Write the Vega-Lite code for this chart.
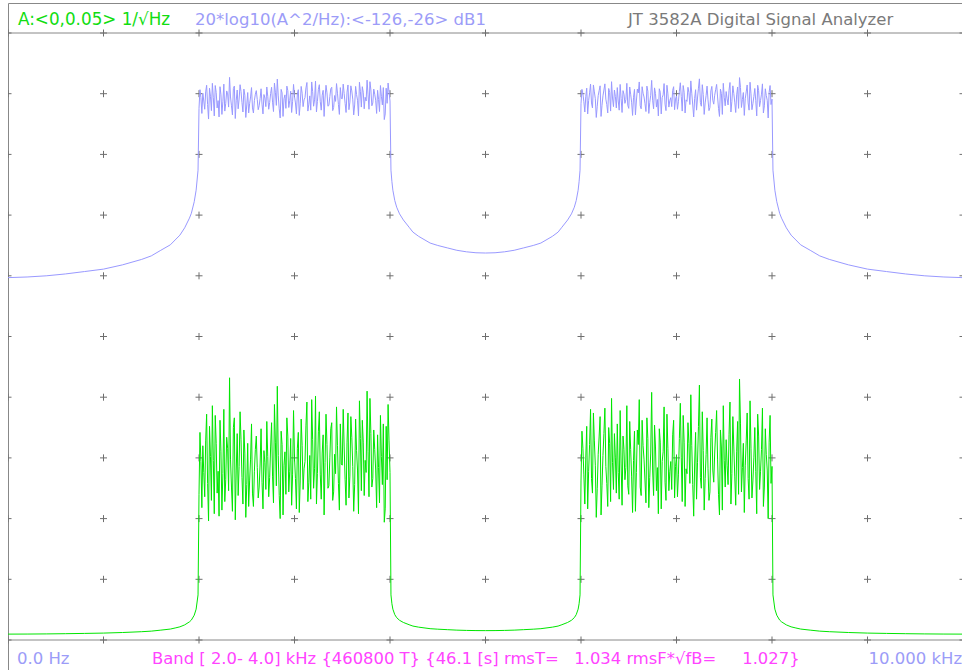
{
  "$schema": "https://vega.github.io/schema/vega-lite/v6.json",
  "width": 955,
  "height": 667,
  "padding": {"left": 8, "top": 3, "right": 0, "bottom": 0},
  "autosize": {"type": "none"},
  "background": "white",
  "config": {"view": {"stroke": "#888888", "strokeWidth": 1}},
  "datasets": {
    "one": [{}],
    "grid": [
      {"gx": 0, "gy": [0, 0.005, 0.01, 0.015, 0.02, 0.025, 0.03, 0.035, 0.04, 0.045, 0.05]},
      {"gx": 1, "gy": [0, 0.005, 0.01, 0.015, 0.02, 0.025, 0.03, 0.035, 0.04, 0.045, 0.05]},
      {"gx": 2, "gy": [0, 0.005, 0.01, 0.015, 0.02, 0.025, 0.03, 0.035, 0.04, 0.045, 0.05]},
      {"gx": 3, "gy": [0, 0.005, 0.01, 0.015, 0.02, 0.025, 0.03, 0.035, 0.04, 0.045, 0.05]},
      {"gx": 4, "gy": [0, 0.005, 0.01, 0.015, 0.02, 0.025, 0.03, 0.035, 0.04, 0.045, 0.05]},
      {"gx": 5, "gy": [0, 0.005, 0.01, 0.015, 0.02, 0.025, 0.03, 0.035, 0.04, 0.045, 0.05]},
      {"gx": 6, "gy": [0, 0.005, 0.01, 0.015, 0.02, 0.025, 0.03, 0.035, 0.04, 0.045, 0.05]},
      {"gx": 7, "gy": [0, 0.005, 0.01, 0.015, 0.02, 0.025, 0.03, 0.035, 0.04, 0.045, 0.05]},
      {"gx": 8, "gy": [0, 0.005, 0.01, 0.015, 0.02, 0.025, 0.03, 0.035, 0.04, 0.045, 0.05]},
      {"gx": 9, "gy": [0, 0.005, 0.01, 0.015, 0.02, 0.025, 0.03, 0.035, 0.04, 0.045, 0.05]},
      {"gx": 10, "gy": [0, 0.005, 0.01, 0.015, 0.02, 0.025, 0.03, 0.035, 0.04, 0.045, 0.05]}
    ],
    "trace": [
      {"f": 0.0, "A": 0.000484}, {"f": 0.2, "A": 0.000490}, {"f": 0.4, "A": 0.000501}, {"f": 0.6, "A": 0.000519},
      {"f": 0.8, "A": 0.000543}, {"f": 1.0, "A": 0.000569}, {"f": 1.2, "A": 0.000617}, {"f": 1.4, "A": 0.000684},
      {"f": 1.5, "A": 0.000731}, {"f": 1.6, "A": 0.000813}, {"f": 1.7, "A": 0.000902}, {"f": 1.75, "A": 0.000989},
      {"f": 1.8, "A": 0.001084}, {"f": 1.85, "A": 0.001245}, {"f": 1.9, "A": 0.001496}, {"f": 1.92, "A": 0.001641},
      {"f": 1.95, "A": 0.002042}, {"f": 1.97, "A": 0.002541}, {"f": 1.99, "A": 0.003715},
      {"f": 2.00, "A": 0.0120}, {"f": 2.02, "A": 0.0147}, {"f": 2.04, "A": 0.0160}, {"f": 2.06, "A": 0.0118},
      {"f": 2.08, "A": 0.0186}, {"f": 2.10, "A": 0.0098}, {"f": 2.12, "A": 0.0151}, {"f": 2.14, "A": 0.0193},
      {"f": 2.16, "A": 0.0104}, {"f": 2.18, "A": 0.0162}, {"f": 2.20, "A": 0.0139}, {"f": 2.22, "A": 0.0181},
      {"f": 2.24, "A": 0.0107}, {"f": 2.26, "A": 0.0190}, {"f": 2.28, "A": 0.0132}, {"f": 2.30, "A": 0.0158},
      {"f": 2.32, "A": 0.0216}, {"f": 2.34, "A": 0.0126}, {"f": 2.36, "A": 0.0175}, {"f": 2.38, "A": 0.0099},
      {"f": 2.40, "A": 0.0170}, {"f": 2.42, "A": 0.0143}, {"f": 2.44, "A": 0.0165}, {"f": 2.46, "A": 0.0112},
      {"f": 2.48, "A": 0.0154}, {"f": 2.50, "A": 0.0128}, {"f": 2.52, "A": 0.0110}, {"f": 2.54, "A": 0.0149},
      {"f": 2.56, "A": 0.0121}, {"f": 2.58, "A": 0.0139}, {"f": 2.60, "A": 0.0168}, {"f": 2.62, "A": 0.0117},
      {"f": 2.64, "A": 0.0145}, {"f": 2.66, "A": 0.0130}, {"f": 2.68, "A": 0.0156}, {"f": 2.70, "A": 0.0124},
      {"f": 2.72, "A": 0.0151}, {"f": 2.74, "A": 0.0134}, {"f": 2.76, "A": 0.0179}, {"f": 2.78, "A": 0.0113},
      {"f": 2.80, "A": 0.0163}, {"f": 2.82, "A": 0.0209}, {"f": 2.84, "A": 0.0119}, {"f": 2.86, "A": 0.0172},
      {"f": 2.88, "A": 0.0103}, {"f": 2.90, "A": 0.0155}, {"f": 2.92, "A": 0.0183}, {"f": 2.94, "A": 0.0122},
      {"f": 2.96, "A": 0.0166}, {"f": 2.98, "A": 0.0136}, {"f": 3.00, "A": 0.0150}, {"f": 3.02, "A": 0.0108},
      {"f": 3.04, "A": 0.0171}, {"f": 3.06, "A": 0.0131}, {"f": 3.08, "A": 0.0160}, {"f": 3.10, "A": 0.0141},
      {"f": 3.12, "A": 0.0177}, {"f": 3.14, "A": 0.0114}, {"f": 3.16, "A": 0.0152}, {"f": 3.18, "A": 0.0198},
      {"f": 3.20, "A": 0.0125}, {"f": 3.22, "A": 0.0201}, {"f": 3.24, "A": 0.0137}, {"f": 3.26, "A": 0.0188},
      {"f": 3.28, "A": 0.0116}, {"f": 3.30, "A": 0.0169}, {"f": 3.32, "A": 0.0146}, {"f": 3.34, "A": 0.0161},
      {"f": 3.36, "A": 0.0127}, {"f": 3.38, "A": 0.0174}, {"f": 3.40, "A": 0.0115}, {"f": 3.42, "A": 0.0153},
      {"f": 3.44, "A": 0.0192}, {"f": 3.46, "A": 0.0129}, {"f": 3.48, "A": 0.0178}, {"f": 3.50, "A": 0.0144},
      {"f": 3.52, "A": 0.0159}, {"f": 3.54, "A": 0.0111}, {"f": 3.56, "A": 0.0187}, {"f": 3.58, "A": 0.0135},
      {"f": 3.60, "A": 0.0167}, {"f": 3.62, "A": 0.0106}, {"f": 3.64, "A": 0.0182}, {"f": 3.66, "A": 0.0140},
      {"f": 3.68, "A": 0.0197}, {"f": 3.70, "A": 0.0123}, {"f": 3.72, "A": 0.0163}, {"f": 3.74, "A": 0.0148},
      {"f": 3.76, "A": 0.0205}, {"f": 3.78, "A": 0.0118}, {"f": 3.80, "A": 0.0170}, {"f": 3.82, "A": 0.0133},
      {"f": 3.84, "A": 0.0157}, {"f": 3.86, "A": 0.0109}, {"f": 3.88, "A": 0.0142}, {"f": 3.90, "A": 0.0185},
      {"f": 3.92, "A": 0.0128}, {"f": 3.94, "A": 0.0097}, {"f": 3.96, "A": 0.0176}, {"f": 3.98, "A": 0.0194},
      {"f": 4.00, "A": 0.0138},
      {"f": 4.01, "A": 0.003715}, {"f": 4.02, "A": 0.002985}, {"f": 4.03, "A": 0.002541}, {"f": 4.05, "A": 0.002089},
      {"f": 4.07, "A": 0.001841}, {"f": 4.10, "A": 0.001622}, {"f": 4.14, "A": 0.001445}, {"f": 4.20, "A": 0.001259},
      {"f": 4.24, "A": 0.001148}, {"f": 4.30, "A": 0.001059}, {"f": 4.42, "A": 0.000933}, {"f": 4.50, "A": 0.000891},
      {"f": 4.60, "A": 0.000851}, {"f": 4.70, "A": 0.000813}, {"f": 4.80, "A": 0.000790}, {"f": 4.90, "A": 0.000776},
      {"f": 5.00, "A": 0.000772}, {"f": 5.10, "A": 0.000776}, {"f": 5.20, "A": 0.000790}, {"f": 5.30, "A": 0.000813},
      {"f": 5.40, "A": 0.000851}, {"f": 5.50, "A": 0.000891}, {"f": 5.58, "A": 0.000933}, {"f": 5.70, "A": 0.001059},
      {"f": 5.76, "A": 0.001148}, {"f": 5.80, "A": 0.001259}, {"f": 5.86, "A": 0.001445}, {"f": 5.90, "A": 0.001622},
      {"f": 5.93, "A": 0.001841}, {"f": 5.95, "A": 0.002089}, {"f": 5.97, "A": 0.002541}, {"f": 5.98, "A": 0.002985},
      {"f": 5.99, "A": 0.003715},
      {"f": 6.00, "A": 0.0131}, {"f": 6.02, "A": 0.0158}, {"f": 6.04, "A": 0.0112}, {"f": 6.06, "A": 0.0176},
      {"f": 6.08, "A": 0.0139}, {"f": 6.10, "A": 0.0190}, {"f": 6.12, "A": 0.0121}, {"f": 6.14, "A": 0.0164},
      {"f": 6.16, "A": 0.0101}, {"f": 6.18, "A": 0.0153}, {"f": 6.20, "A": 0.0184}, {"f": 6.22, "A": 0.0127},
      {"f": 6.24, "A": 0.0170}, {"f": 6.26, "A": 0.0143}, {"f": 6.28, "A": 0.0110}, {"f": 6.30, "A": 0.0162},
      {"f": 6.32, "A": 0.0199}, {"f": 6.34, "A": 0.0124}, {"f": 6.36, "A": 0.0150}, {"f": 6.38, "A": 0.0178},
      {"f": 6.40, "A": 0.0116}, {"f": 6.42, "A": 0.0145}, {"f": 6.44, "A": 0.0168}, {"f": 6.46, "A": 0.0132},
      {"f": 6.48, "A": 0.0193}, {"f": 6.50, "A": 0.0120}, {"f": 6.52, "A": 0.0157}, {"f": 6.54, "A": 0.0105},
      {"f": 6.56, "A": 0.0172}, {"f": 6.58, "A": 0.0138}, {"f": 6.60, "A": 0.0161}, {"f": 6.62, "A": 0.0126},
      {"f": 6.64, "A": 0.0181}, {"f": 6.66, "A": 0.0149}, {"f": 6.68, "A": 0.0113}, {"f": 6.70, "A": 0.0166},
      {"f": 6.72, "A": 0.0134}, {"f": 6.74, "A": 0.0204}, {"f": 6.76, "A": 0.0119}, {"f": 6.78, "A": 0.0159},
      {"f": 6.80, "A": 0.0142}, {"f": 6.82, "A": 0.0174}, {"f": 6.84, "A": 0.0108}, {"f": 6.86, "A": 0.0155},
      {"f": 6.88, "A": 0.0130}, {"f": 6.90, "A": 0.0186}, {"f": 6.92, "A": 0.0123}, {"f": 6.94, "A": 0.0147},
      {"f": 6.96, "A": 0.0169}, {"f": 6.98, "A": 0.0117}, {"f": 7.00, "A": 0.0152}, {"f": 7.02, "A": 0.0136},
      {"f": 7.04, "A": 0.0195}, {"f": 7.06, "A": 0.0114}, {"f": 7.08, "A": 0.0163}, {"f": 7.10, "A": 0.0141},
      {"f": 7.12, "A": 0.0179}, {"f": 7.14, "A": 0.0129}, {"f": 7.16, "A": 0.0160}, {"f": 7.18, "A": 0.0102},
      {"f": 7.20, "A": 0.0171}, {"f": 7.22, "A": 0.0146}, {"f": 7.24, "A": 0.0210}, {"f": 7.26, "A": 0.0125},
      {"f": 7.28, "A": 0.0156}, {"f": 7.30, "A": 0.0133}, {"f": 7.32, "A": 0.0183}, {"f": 7.34, "A": 0.0115},
      {"f": 7.36, "A": 0.0167}, {"f": 7.38, "A": 0.0140}, {"f": 7.40, "A": 0.0154}, {"f": 7.42, "A": 0.0189},
      {"f": 7.44, "A": 0.0120}, {"f": 7.46, "A": 0.0173}, {"f": 7.48, "A": 0.0107}, {"f": 7.50, "A": 0.0148},
      {"f": 7.52, "A": 0.0165}, {"f": 7.54, "A": 0.0128}, {"f": 7.56, "A": 0.0196}, {"f": 7.58, "A": 0.0137},
      {"f": 7.60, "A": 0.0159}, {"f": 7.62, "A": 0.0111}, {"f": 7.64, "A": 0.0180}, {"f": 7.66, "A": 0.0215},
      {"f": 7.68, "A": 0.0122}, {"f": 7.70, "A": 0.0162}, {"f": 7.72, "A": 0.0144}, {"f": 7.74, "A": 0.0187},
      {"f": 7.76, "A": 0.0116}, {"f": 7.78, "A": 0.0158}, {"f": 7.80, "A": 0.0131}, {"f": 7.82, "A": 0.0175},
      {"f": 7.84, "A": 0.0104}, {"f": 7.86, "A": 0.0168}, {"f": 7.88, "A": 0.0139}, {"f": 7.90, "A": 0.0191},
      {"f": 7.92, "A": 0.0126}, {"f": 7.94, "A": 0.0153}, {"f": 7.96, "A": 0.0100}, {"f": 7.98, "A": 0.0185},
      {"f": 8.00, "A": 0.0143},
      {"f": 8.01, "A": 0.003715}, {"f": 8.03, "A": 0.002541}, {"f": 8.05, "A": 0.002042}, {"f": 8.08, "A": 0.001641},
      {"f": 8.10, "A": 0.001496}, {"f": 8.15, "A": 0.001245}, {"f": 8.20, "A": 0.001084}, {"f": 8.25, "A": 0.000989},
      {"f": 8.30, "A": 0.000902}, {"f": 8.40, "A": 0.000813}, {"f": 8.50, "A": 0.000731}, {"f": 8.60, "A": 0.000684},
      {"f": 8.80, "A": 0.000617}, {"f": 9.00, "A": 0.000569}, {"f": 9.20, "A": 0.000543}, {"f": 9.40, "A": 0.000519},
      {"f": 9.60, "A": 0.000501}, {"f": 9.80, "A": 0.000490}, {"f": 10.00, "A": 0.000484},
      {"f": 2.01, "A": 0.0171}, {"f": 2.03, "A": 0.0109}, {"f": 2.05, "A": 0.0138}, {"f": 2.07, "A": 0.0164},
      {"f": 2.09, "A": 0.0129}, {"f": 2.11, "A": 0.0176}, {"f": 2.13, "A": 0.0115}, {"f": 2.15, "A": 0.0148},
      {"f": 2.17, "A": 0.0185}, {"f": 2.19, "A": 0.0121}, {"f": 2.21, "A": 0.0102}, {"f": 2.23, "A": 0.0155},
      {"f": 2.25, "A": 0.0137}, {"f": 2.27, "A": 0.0114}, {"f": 2.29, "A": 0.0167}, {"f": 2.31, "A": 0.0123},
      {"f": 2.33, "A": 0.0149}, {"f": 2.35, "A": 0.0106}, {"f": 2.37, "A": 0.0183}, {"f": 2.39, "A": 0.0140},
      {"f": 2.41, "A": 0.0119}, {"f": 2.43, "A": 0.0188}, {"f": 2.45, "A": 0.0134}, {"f": 2.47, "A": 0.0173},
      {"f": 2.49, "A": 0.0101}, {"f": 2.51, "A": 0.0162}, {"f": 2.53, "A": 0.0131}, {"f": 2.55, "A": 0.0178},
      {"f": 2.57, "A": 0.0110}, {"f": 2.59, "A": 0.0157}, {"f": 2.61, "A": 0.0142}, {"f": 2.63, "A": 0.0126},
      {"f": 2.65, "A": 0.0174}, {"f": 2.67, "A": 0.0108}, {"f": 2.69, "A": 0.0146}, {"f": 2.71, "A": 0.0180},
      {"f": 2.73, "A": 0.0118}, {"f": 2.75, "A": 0.0159}, {"f": 2.77, "A": 0.0135}, {"f": 2.79, "A": 0.0194},
      {"f": 2.81, "A": 0.0127}, {"f": 2.83, "A": 0.0152}, {"f": 2.85, "A": 0.0100}, {"f": 2.87, "A": 0.0161},
      {"f": 2.89, "A": 0.0144}, {"f": 2.91, "A": 0.0120}, {"f": 2.93, "A": 0.0168}, {"f": 2.95, "A": 0.0139},
      {"f": 2.97, "A": 0.0111}, {"f": 2.99, "A": 0.0189}, {"f": 3.01, "A": 0.0133}, {"f": 3.03, "A": 0.0158},
      {"f": 3.05, "A": 0.0105}, {"f": 3.07, "A": 0.0182}, {"f": 3.09, "A": 0.0124}, {"f": 3.11, "A": 0.0147},
      {"f": 3.13, "A": 0.0196}, {"f": 3.15, "A": 0.0130}, {"f": 3.17, "A": 0.0116}, {"f": 3.19, "A": 0.0165},
      {"f": 3.21, "A": 0.0141}, {"f": 3.23, "A": 0.0112}, {"f": 3.25, "A": 0.0172}, {"f": 3.27, "A": 0.0136},
      {"f": 3.29, "A": 0.0154}, {"f": 3.31, "A": 0.0103}, {"f": 3.33, "A": 0.0186}, {"f": 3.35, "A": 0.0125},
      {"f": 3.37, "A": 0.0150}, {"f": 3.39, "A": 0.0179}, {"f": 3.41, "A": 0.0122}, {"f": 3.43, "A": 0.0137},
      {"f": 3.45, "A": 0.0160}, {"f": 3.47, "A": 0.0107}, {"f": 3.49, "A": 0.0145}, {"f": 3.51, "A": 0.0190},
      {"f": 3.53, "A": 0.0132}, {"f": 3.55, "A": 0.0163}, {"f": 3.57, "A": 0.0117}, {"f": 3.59, "A": 0.0184},
      {"f": 3.61, "A": 0.0143}, {"f": 3.63, "A": 0.0128}, {"f": 3.65, "A": 0.0156}, {"f": 3.67, "A": 0.0104},
      {"f": 3.69, "A": 0.0166}, {"f": 3.71, "A": 0.0181}, {"f": 3.73, "A": 0.0119}, {"f": 3.75, "A": 0.0138},
      {"f": 3.77, "A": 0.0155}, {"f": 3.79, "A": 0.0199}, {"f": 3.81, "A": 0.0126}, {"f": 3.83, "A": 0.0173},
      {"f": 3.85, "A": 0.0140}, {"f": 3.87, "A": 0.0169}, {"f": 3.89, "A": 0.0113}, {"f": 3.91, "A": 0.0151},
      {"f": 3.93, "A": 0.0178}, {"f": 3.95, "A": 0.0108}, {"f": 3.97, "A": 0.0132}, {"f": 3.99, "A": 0.0164},
      {"f": 6.01, "A": 0.0172}, {"f": 6.03, "A": 0.0136}, {"f": 6.05, "A": 0.0150}, {"f": 6.07, "A": 0.0108},
      {"f": 6.09, "A": 0.0161}, {"f": 6.11, "A": 0.0133}, {"f": 6.13, "A": 0.0187}, {"f": 6.15, "A": 0.0144},
      {"f": 6.17, "A": 0.0125}, {"f": 6.19, "A": 0.0168}, {"f": 6.21, "A": 0.0103}, {"f": 6.23, "A": 0.0152},
      {"f": 6.25, "A": 0.0191}, {"f": 6.27, "A": 0.0129}, {"f": 6.29, "A": 0.0175}, {"f": 6.31, "A": 0.0114},
      {"f": 6.33, "A": 0.0146}, {"f": 6.35, "A": 0.0170}, {"f": 6.37, "A": 0.0121}, {"f": 6.39, "A": 0.0138},
      {"f": 6.41, "A": 0.0189}, {"f": 6.43, "A": 0.0111}, {"f": 6.45, "A": 0.0157}, {"f": 6.47, "A": 0.0142},
      {"f": 6.49, "A": 0.0127}, {"f": 6.51, "A": 0.0180}, {"f": 6.53, "A": 0.0135}, {"f": 6.55, "A": 0.0148},
      {"f": 6.57, "A": 0.0106}, {"f": 6.59, "A": 0.0173}, {"f": 6.61, "A": 0.0198}, {"f": 6.63, "A": 0.0119},
      {"f": 6.65, "A": 0.0160}, {"f": 6.67, "A": 0.0131}, {"f": 6.69, "A": 0.0183}, {"f": 6.71, "A": 0.0109},
      {"f": 6.73, "A": 0.0154}, {"f": 6.75, "A": 0.0140}, {"f": 6.77, "A": 0.0177}, {"f": 6.79, "A": 0.0123},
      {"f": 6.81, "A": 0.0104}, {"f": 6.83, "A": 0.0163}, {"f": 6.85, "A": 0.0147}, {"f": 6.87, "A": 0.0192},
      {"f": 6.89, "A": 0.0115}, {"f": 6.91, "A": 0.0158}, {"f": 6.93, "A": 0.0139}, {"f": 6.95, "A": 0.0124},
      {"f": 6.97, "A": 0.0181}, {"f": 6.99, "A": 0.0143}, {"f": 7.01, "A": 0.0118}, {"f": 7.03, "A": 0.0166},
      {"f": 7.05, "A": 0.0150}, {"f": 7.07, "A": 0.0185}, {"f": 7.09, "A": 0.0110}, {"f": 7.11, "A": 0.0137},
      {"f": 7.13, "A": 0.0162}, {"f": 7.15, "A": 0.0202}, {"f": 7.17, "A": 0.0128}, {"f": 7.19, "A": 0.0145},
      {"f": 7.21, "A": 0.0116}, {"f": 7.23, "A": 0.0176}, {"f": 7.25, "A": 0.0134}, {"f": 7.27, "A": 0.0188},
      {"f": 7.29, "A": 0.0107}, {"f": 7.31, "A": 0.0153}, {"f": 7.33, "A": 0.0141}, {"f": 7.35, "A": 0.0122},
      {"f": 7.37, "A": 0.0182}, {"f": 7.39, "A": 0.0130}, {"f": 7.41, "A": 0.0171}, {"f": 7.43, "A": 0.0149},
      {"f": 7.45, "A": 0.0103}, {"f": 7.47, "A": 0.0159}, {"f": 7.49, "A": 0.0193}, {"f": 7.51, "A": 0.0126},
      {"f": 7.53, "A": 0.0144}, {"f": 7.55, "A": 0.0169}, {"f": 7.57, "A": 0.0112}, {"f": 7.59, "A": 0.0184},
      {"f": 7.61, "A": 0.0135}, {"f": 7.63, "A": 0.0155}, {"f": 7.65, "A": 0.0120}, {"f": 7.67, "A": 0.0178},
      {"f": 7.69, "A": 0.0142}, {"f": 7.71, "A": 0.0105}, {"f": 7.73, "A": 0.0164}, {"f": 7.75, "A": 0.0133},
      {"f": 7.77, "A": 0.0197}, {"f": 7.79, "A": 0.0117}, {"f": 7.81, "A": 0.0150}, {"f": 7.83, "A": 0.0139},
      {"f": 7.85, "A": 0.0186}, {"f": 7.87, "A": 0.0124}, {"f": 7.89, "A": 0.0157}, {"f": 7.91, "A": 0.0110},
      {"f": 7.93, "A": 0.0174}, {"f": 7.95, "A": 0.0140}, {"f": 7.97, "A": 0.0163}, {"f": 7.99, "A": 0.0129}
    ]
  },
  "layer": [
    {
      "layer": [
        {
          "data": {"name": "one"},
          "mark": {"type": "rule", "color": "#888888", "strokeWidth": 1},
          "encoding": {"y": {"datum": 0, "type": "quantitative", "axis": null, "scale": {"domain": [-0.00247117, 0.05247117], "nice": false, "zero": false}}}
        },
        {
          "data": {"name": "one"},
          "mark": {"type": "rule", "color": "#888888", "strokeWidth": 1},
          "encoding": {"y": {"datum": 0.05, "type": "quantitative", "axis": null}}
        },
        {
          "data": {"name": "grid"},
          "transform": [{"flatten": ["gy"]}],
          "mark": {"type": "point", "shape": "M-1,0H1M0,-1V1", "size": 49, "filled": false, "stroke": "#6e6e6e", "strokeWidth": 1, "opacity": 1, "clip": true},
          "encoding": {
            "x": {"field": "gx", "type": "quantitative", "axis": null, "scale": {"domain": [0, 10], "nice": false, "zero": false}},
            "y": {"field": "gy", "type": "quantitative", "axis": null}
          }
        },
        {
          "data": {"name": "trace"},
          "mark": {"type": "line", "color": "#00e600", "strokeWidth": 1, "interpolate": "linear"},
          "encoding": {
            "x": {"field": "f", "type": "quantitative", "axis": null},
            "y": {"field": "A", "type": "quantitative", "axis": null}
          }
        },
        {
          "data": {"name": "one"},
          "mark": {"type": "text", "text": "A:<0,0.05> 1/\u221aHz", "align": "left", "baseline": "alphabetic", "font": "DejaVu Sans", "fontSize": 16.8, "color": "#11dd11"},
          "encoding": {"x": {"datum": 0.105, "type": "quantitative", "axis": null}, "y": {"datum": 0.050659, "type": "quantitative", "axis": null}}
        },
        {
          "data": {"name": "one"},
          "mark": {"type": "text", "text": "20*log10(A^2/Hz):<-126,-26> dB1", "align": "left", "baseline": "alphabetic", "font": "DejaVu Sans", "fontSize": 16.5, "color": "#9c9cf8"},
          "encoding": {"x": {"datum": 1.958, "type": "quantitative", "axis": null}, "y": {"datum": 0.050659, "type": "quantitative", "axis": null}}
        },
        {
          "data": {"name": "one"},
          "mark": {"type": "text", "text": "JT 3582A Digital Signal Analyzer", "align": "left", "baseline": "alphabetic", "font": "DejaVu Sans", "fontSize": 16.5, "color": "#7a7a7a"},
          "encoding": {"x": {"datum": 6.492, "type": "quantitative", "axis": null}, "y": {"datum": 0.050659, "type": "quantitative", "axis": null}}
        },
        {
          "data": {"name": "one"},
          "mark": {"type": "text", "text": "0.0 Hz", "align": "left", "baseline": "alphabetic", "font": "DejaVu Sans", "fontSize": 16.5, "color": "#9c9cf8"},
          "encoding": {"x": {"datum": 0.094, "type": "quantitative", "axis": null}, "y": {"datum": -0.001977, "type": "quantitative", "axis": null}}
        },
        {
          "data": {"name": "one"},
          "mark": {"type": "text", "text": "Band [ 2.0- 4.0] kHz {460800 T} {46.1 [s] rmsT=\u00a0\u00a0 1.034 rmsF*\u221afB=\u00a0\u00a0\u00a0\u00a0 1.027}", "align": "left", "baseline": "alphabetic", "font": "DejaVu Sans", "fontSize": 16.4, "color": "#ff44ff"},
          "encoding": {"x": {"datum": 1.508, "type": "quantitative", "axis": null}, "y": {"datum": -0.001977, "type": "quantitative", "axis": null}}
        },
        {
          "data": {"name": "one"},
          "mark": {"type": "text", "text": "10.000 kHz", "align": "right", "baseline": "alphabetic", "font": "DejaVu Sans", "fontSize": 16.5, "color": "#9c9cf8"},
          "encoding": {"x": {"datum": 9.99, "type": "quantitative", "axis": null}, "y": {"datum": -0.001977, "type": "quantitative", "axis": null}}
        }
      ]
    },
    {
      "data": {"name": "trace"},
      "mark": {"type": "line", "color": "#9999ff", "strokeWidth": 1, "interpolate": "linear"},
      "encoding": {
        "x": {"field": "f", "type": "quantitative", "axis": null},
        "y": {"field": "A", "type": "quantitative", "axis": null, "scale": {"type": "log", "domain": [2.8371e-7, 0.088537], "nice": false}}
      }
    }
  ],
  "resolve": {"scale": {"y": "independent"}}
}
